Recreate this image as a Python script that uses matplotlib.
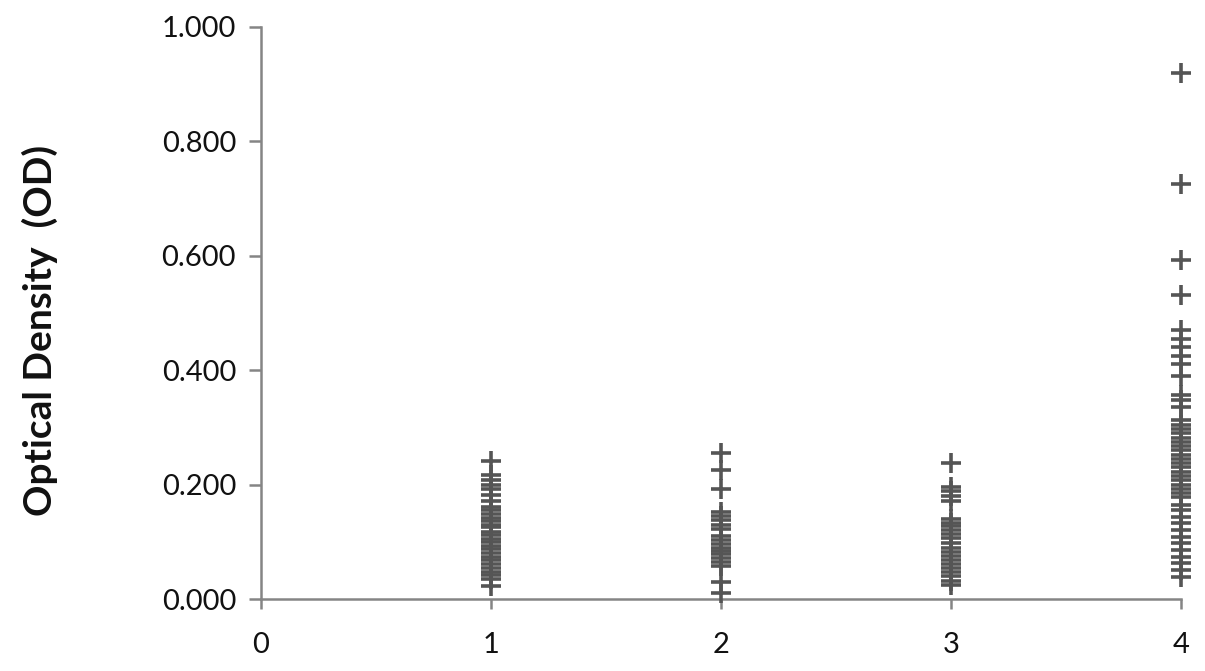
import matplotlib.pyplot as plt
import numpy as np

plt.rcParams['font.family'] = ['Lato', 'DejaVu Sans']

# optical density readings per group
group1 = [0.242, 0.217, 0.208, 0.200, 0.192, 0.182, 0.172, 0.161, 0.155, 0.148,
          0.142, 0.137, 0.130, 0.125, 0.118, 0.112, 0.105, 0.099, 0.093, 0.087,
          0.080, 0.074, 0.068, 0.062, 0.055, 0.048, 0.042, 0.035, 0.023]
group2 = [0.255, 0.225, 0.193, 0.152, 0.145, 0.138, 0.130, 0.122, 0.110, 0.103,
          0.097, 0.090, 0.084, 0.078, 0.072, 0.065, 0.058, 0.030, 0.010]
group3 = [0.238, 0.195, 0.188, 0.180, 0.172, 0.140, 0.133, 0.127, 0.120, 0.113,
          0.106, 0.098, 0.090, 0.082, 0.075, 0.068, 0.061, 0.054, 0.047, 0.040,
          0.032, 0.025]
group4 = [0.919, 0.726, 0.593, 0.531, 0.470, 0.455, 0.440, 0.425, 0.410, 0.389,
          0.357, 0.348, 0.336, 0.313, 0.305, 0.298, 0.290, 0.282, 0.275, 0.268,
          0.260, 0.252, 0.245, 0.238, 0.230, 0.222, 0.215, 0.208, 0.200, 0.192,
          0.185, 0.178, 0.165, 0.155, 0.144, 0.132, 0.121, 0.109, 0.098, 0.086,
          0.074, 0.063, 0.051, 0.039]
groups = [1, 2, 3, 4]
xticks = [0, 1, 2, 3, 4]
yticks = [0.0, 0.2, 0.4, 0.6, 0.8, 1.0]

fig = plt.figure(figsize=(12.05, 6.71), dpi=100)
ax = fig.add_axes([0.2166, 0.1073, 0.7634, 0.8525])

axis_col = '#858585'
for g, vals in zip(groups, [group1, group2, group3, group4]):
    ax.plot([g] * len(vals), vals, linestyle='none', marker='+',
            markersize=15, markeredgewidth=2.6, color='#555555', zorder=3,
            clip_on=False)

ax.set_xlim(0, 4)
ax.set_ylim(0, 1)
ax.set_xticks(xticks)
ax.set_xticklabels([str(t) for t in xticks])
ax.set_yticks(yticks)
ax.set_yticklabels([f'{t:.3f}' for t in yticks])

for s in ['top', 'right']:
    ax.spines[s].set_visible(False)
for s in ['left', 'bottom']:
    ax.spines[s].set_color(axis_col)
    ax.spines[s].set_linewidth(1.8)
    ax.spines[s].set_zorder(1)

ax.tick_params(axis='y', direction='out', length=9, width=1.8, color=axis_col,
               labelsize=21, pad=9, labelcolor='#111111')
ax.tick_params(axis='x', direction='out', length=7, width=1.8, color=axis_col,
               labelsize=21, pad=17, labelcolor='#111111')

fig.text(40 / 1205, 0.508, 'Optical Density  (OD)', rotation=90,
         ha='center', va='center', fontsize=28, fontweight='bold', color='#111111')

plt.savefig('out.png', dpi=100)
